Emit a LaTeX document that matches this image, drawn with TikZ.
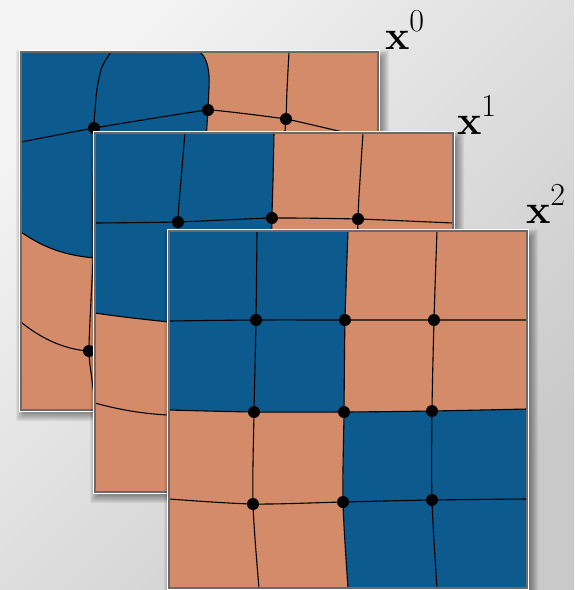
\documentclass[tikz,border=0pt]{standalone}
\usetikzlibrary{calc}
\definecolor{blc}{HTML}{0C5A8E}
\definecolor{orc}{HTML}{D38B69}
\definecolor{brd}{HTML}{6A6A6A}
\definecolor{bgA}{HTML}{F3F3F3}
\definecolor{bgB}{HTML}{C9C9C9}
\tikzset{
 gridline/.style={black, line width=1.1pt},
 edgeline/.style={draw=brd, line width=1.3pt},
 glowline/.style={draw=white, line width=1pt},
 lab/.style={anchor=base west, inner sep=0pt, outer sep=0pt},
}
\newcommand\gdot[1]{\fill[black] #1 circle (6);}
\newcommand\pshadow[4]{%
  \foreach \k in {0,...,8}{\fill[black,opacity=0.05,rounded corners=2pt] ({#1+3-\k},{#2+6-\k}) rectangle ({#3+3+\k},{#4+3+\k});}}
\newcommand\pframe[4]{%
  \draw[glowline] ({#1-1.2},{#2-1.2}) rectangle ({#3+1.2},{#4+1.2});
  \draw[edgeline] (#1,#2) rectangle (#3,#4);}
\newcommand\xlab[1]{{\fontsize{41}{41}\selectfont\textbf{x}}\raisebox{18pt}{\fontsize{32}{32}\selectfont #1}}
\begin{document}
\begin{tikzpicture}[x=1pt,y=-1pt]
\useasboundingbox (0,0) rectangle (574,590);
\shade[top color=bgA, bottom color=bgB, shading angle=45] (0,0) rectangle (574,590);

% ---------- panel 0 ----------
\pshadow{21}{52}{378}{410}
\begin{scope}
\clip (21,52) rectangle (378,410);
\fill[orc] (21,52) rectangle (378,410);
\fill[blc] (21,52) -- (200,52) .. controls (207,58) and (210,70) .. (209,88) -- (208,110) -- (206,140) -- (203,250) -- (95,258) .. controls (60,255) and (40,245) .. (21,232) -- cycle;
\draw[gridline] plot[smooth,tension=0.15] coordinates {(21,142) (94,128) (208,110) (286,119) (347,133) (378,141)};
\draw[gridline] plot[smooth] coordinates {(111,52) (102,67) (97,89) (95,110) (94,128) (93,200) (93,258) (91,300) (89,351) (92,380) (96,410)};
\draw[gridline] (200,52) .. controls (207,58) and (210,70) .. (209,88) -- (208,110) -- (206,140) -- (203,250);
\draw[gridline] plot[smooth] coordinates {(289,52) (287,90) (286,119) (284,140)};
\draw[gridline] (21,232) .. controls (40,245) and (60,255) .. (95,258) -- (203,250);
\draw[gridline] (21,322) .. controls (45,342) and (70,350) .. (89,351) -- (200,345);
\gdot{(94,128)} \gdot{(208,110)} \gdot{(286,119)} \gdot{(89,351)}
\end{scope}
\pframe{21}{52}{378}{410}

% ---------- panel 1 ----------
\pshadow{95}{133}{453}{492}
\begin{scope}
\clip (95,133) rectangle (453,492);
\fill[orc] (95,133) rectangle (453,492);
\fill[blc] (95,133) -- (274,133) -- (272,218) -- (271,320) -- (169,322) .. controls (140,319) and (115,316) .. (95,313) -- cycle;
\draw[gridline] plot[smooth,tension=0.3] coordinates {(95,223) (178,222) (272,218) (358,219) (453,223)};
\draw[gridline] plot[smooth] coordinates {(185,133) (181,180) (178,222) (176,320) (176,410) (178,492)};
\draw[gridline] plot[smooth] coordinates {(274,133) (273,180) (272,218) (271,320) (271,410) (273,492)};
\draw[gridline] plot[smooth] coordinates {(363,133) (360,180) (358,219) (356,320) (356,410) (358,492)};
\draw[gridline] (95,313) .. controls (115,316) and (140,319) .. (169,322) -- (271,320) -- (453,318);
\draw[gridline] (95,403) .. controls (120,410) and (145,414) .. (169,415) -- (271,414) -- (453,410);
\gdot{(178,222)} \gdot{(272,218)} \gdot{(358,219)}
\end{scope}
\pframe{95}{133}{453}{492}

% ---------- panel 2 ----------
\pshadow{169}{231}{527}{588}
\begin{scope}
\clip (169,231) rectangle (527,588);
\fill[orc] (169,231) rectangle (527,588);
\fill[blc] (169,231) -- (348,231) -- (345,320) -- (344,412) -- (254,412) -- (169,410) -- cycle;
\fill[blc] (344,412) -- (432,411) -- (527,409) -- (527,588) -- (348,588) -- (343,502) -- cycle;
\draw[gridline] plot[smooth] coordinates {(257,231) (256,320) (254,412) (253,504) (259,588)};
\draw[gridline] plot[smooth] coordinates {(348,231) (345,320) (344,412) (343,502) (348,588)};
\draw[gridline] plot[smooth] coordinates {(437,231) (434,320) (432,411) (432,500) (437,588)};
\draw[gridline] plot[smooth] coordinates {(169,321) (256,320) (345,320) (434,320) (527,320)};
\draw[gridline] plot[smooth] coordinates {(169,410) (254,412) (344,412) (432,411) (527,409)};
\draw[gridline] plot[smooth] coordinates {(169,499) (253,504) (343,502) (432,500) (527,499)};
\gdot{(256,320)} \gdot{(345,320)} \gdot{(434,320)}
\gdot{(254,412)} \gdot{(344,412)} \gdot{(432,411)}
\gdot{(253,504)} \gdot{(343,502)} \gdot{(432,500)}
\end{scope}
\pframe{169}{231}{527}{588}

% ---------- labels ----------
\node[lab] (l0) at (385,49) {\xlab{0}};
\node[lab] (l1) at (457,134) {\xlab{1}};
\node[lab] (l2) at (526,223) {\xlab{2}};
\end{tikzpicture}
\end{document}
